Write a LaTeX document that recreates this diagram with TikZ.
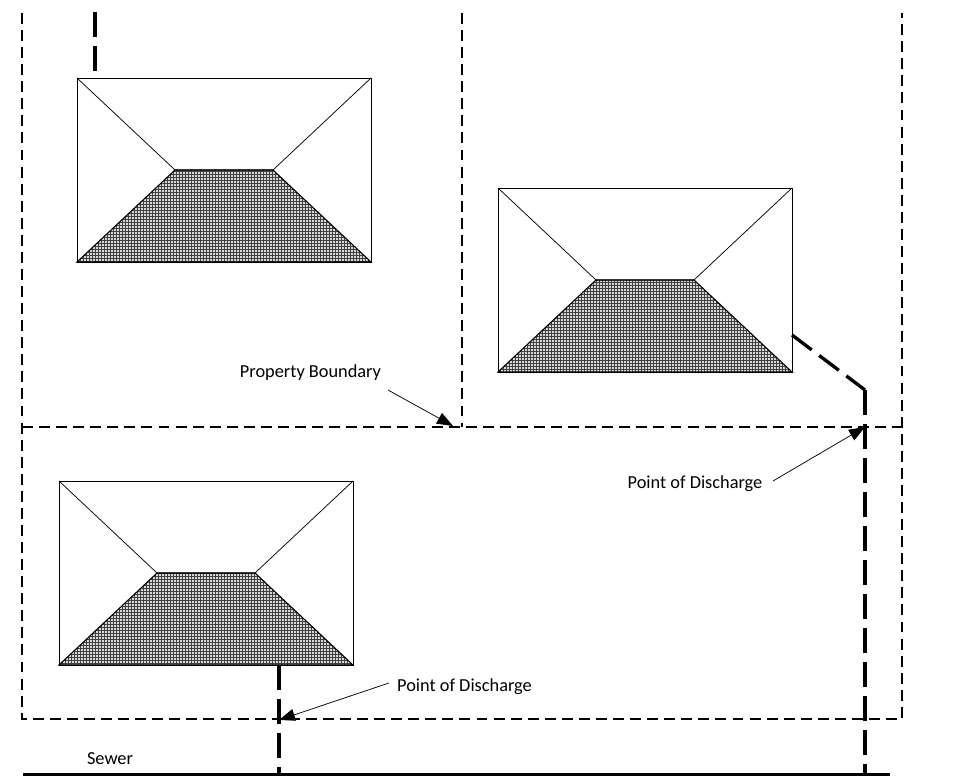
\documentclass[tikz,border=0pt]{standalone}
\usepackage{fontspec}
\setmainfont{Carlito}
\usetikzlibrary{arrows.meta,patterns}
\pgfdeclarepatternformonly{roofdots}{\pgfqpoint{-1pt}{-1pt}}{\pgfqpoint{2pt}{2pt}}{\pgfqpoint{2.25pt}{2.25pt}}{%
    \pgfpathrectangle{\pgfqpoint{0pt}{0pt}}{\pgfqpoint{1.25pt}{1.25pt}}%
    \pgfusepath{fill}}
\tikzset{
    boundary/.style={line width=0.8pt, dash pattern=on 8.2pt off 4.6pt},
    drain/.style={line width=2.5pt, dash pattern=on 18.5pt off 7pt},
    leader/.style={line width=0.55pt, -{Triangle[length=12pt,width=9pt]}},
    label/.style={font=\fontsize{13.75}{16}\selectfont, inner sep=0pt},
    house/.pic={
        \coordinate (-nw) at (0,0);
        \coordinate (-ne) at (294,0);
        \coordinate (-sw) at (0,184);
        \coordinate (-se) at (294,184);
        \coordinate (-rl) at (98,92);
        \coordinate (-rr) at (196,92);
        \fill[black!75] (-sw) -- (-rl) -- (-rr) -- (-se) -- cycle;
        \fill[pattern=roofdots, pattern color=white!85!black] (-sw) -- (-rl) -- (-rr) -- (-se) -- cycle;
        \draw[line width=0.55pt] (-nw) rectangle (-se);
        \draw[line width=0.55pt] (-nw) -- (-rl) -- (-rr) -- (-ne);
        \draw[line width=0.8pt] (-sw) -- (-rl) -- (-rr) -- (-se) -- cycle;
    }
}
\begin{document}
\begin{tikzpicture}[x=0.75pt,y=-0.75pt]
    \useasboundingbox (0,0) rectangle (961,777);

    \pic (one) at (77,78) {house};
    \pic (two) at (498,188) {house};
    \pic (three) at (59,481) {house};

    % property lines
    \coordinate (bl) at (22,719);
    \coordinate (br) at (902,719);
    \coordinate (tl) at (22,13);
    \coordinate (tr) at (902,13);
    \coordinate (ml) at (22,427);
    \coordinate (mr) at (902,427);
    \coordinate (tm) at (462,13);
    \coordinate (mm) at (462,427);
    \draw[boundary] (tl) -- (bl) -- (br) -- (tr);
    \draw[boundary] (ml) -- (mr);
    \draw[boundary] (tm) -- (mm);

    % sewer and drains
    \coordinate (sl) at (23,774.5);
    \coordinate (sr) at (890,774.5);
    \coordinate (s2) at (865,774.5);
    \coordinate (s3) at (279,774.5);
    \coordinate (d1a) at (95,12);
    \coordinate (d1b) at (95,78);
    \coordinate (d2a) at (792,335);
    \coordinate (d2b) at (865,390);
    \coordinate (d3) at (279,665);
    \draw[line width=2.4pt] (sl) -- (sr);
    \draw[drain] (d1a) -- (d1b);
    \draw[drain] (d2a) -- (d2b);
    \draw[drain] (d2b) -- (s2);
    \draw[drain] (d3) -- (s3);

    % labels
    \node[label] (boundary) at (310.5,373) {Property Boundary};
    \node[label] (dischargeA) at (695,484) {Point of Discharge};
    \node[label] (dischargeB) at (464.5,687) {Point of Discharge};
    \node[label] (sewer) at (110,759) {Sewer};

    \coordinate (b1) at (388,390);
    \coordinate (b2) at (453,426);
    \coordinate (a1) at (773,481);
    \coordinate (a2) at (865,427);
    \coordinate (c1) at (389,683);
    \coordinate (c2) at (279,720);
    \draw[leader] (b1) -- (b2);
    \draw[leader] (a1) -- (a2);
    \draw[leader] (c1) -- (c2);
\end{tikzpicture}
\end{document}
